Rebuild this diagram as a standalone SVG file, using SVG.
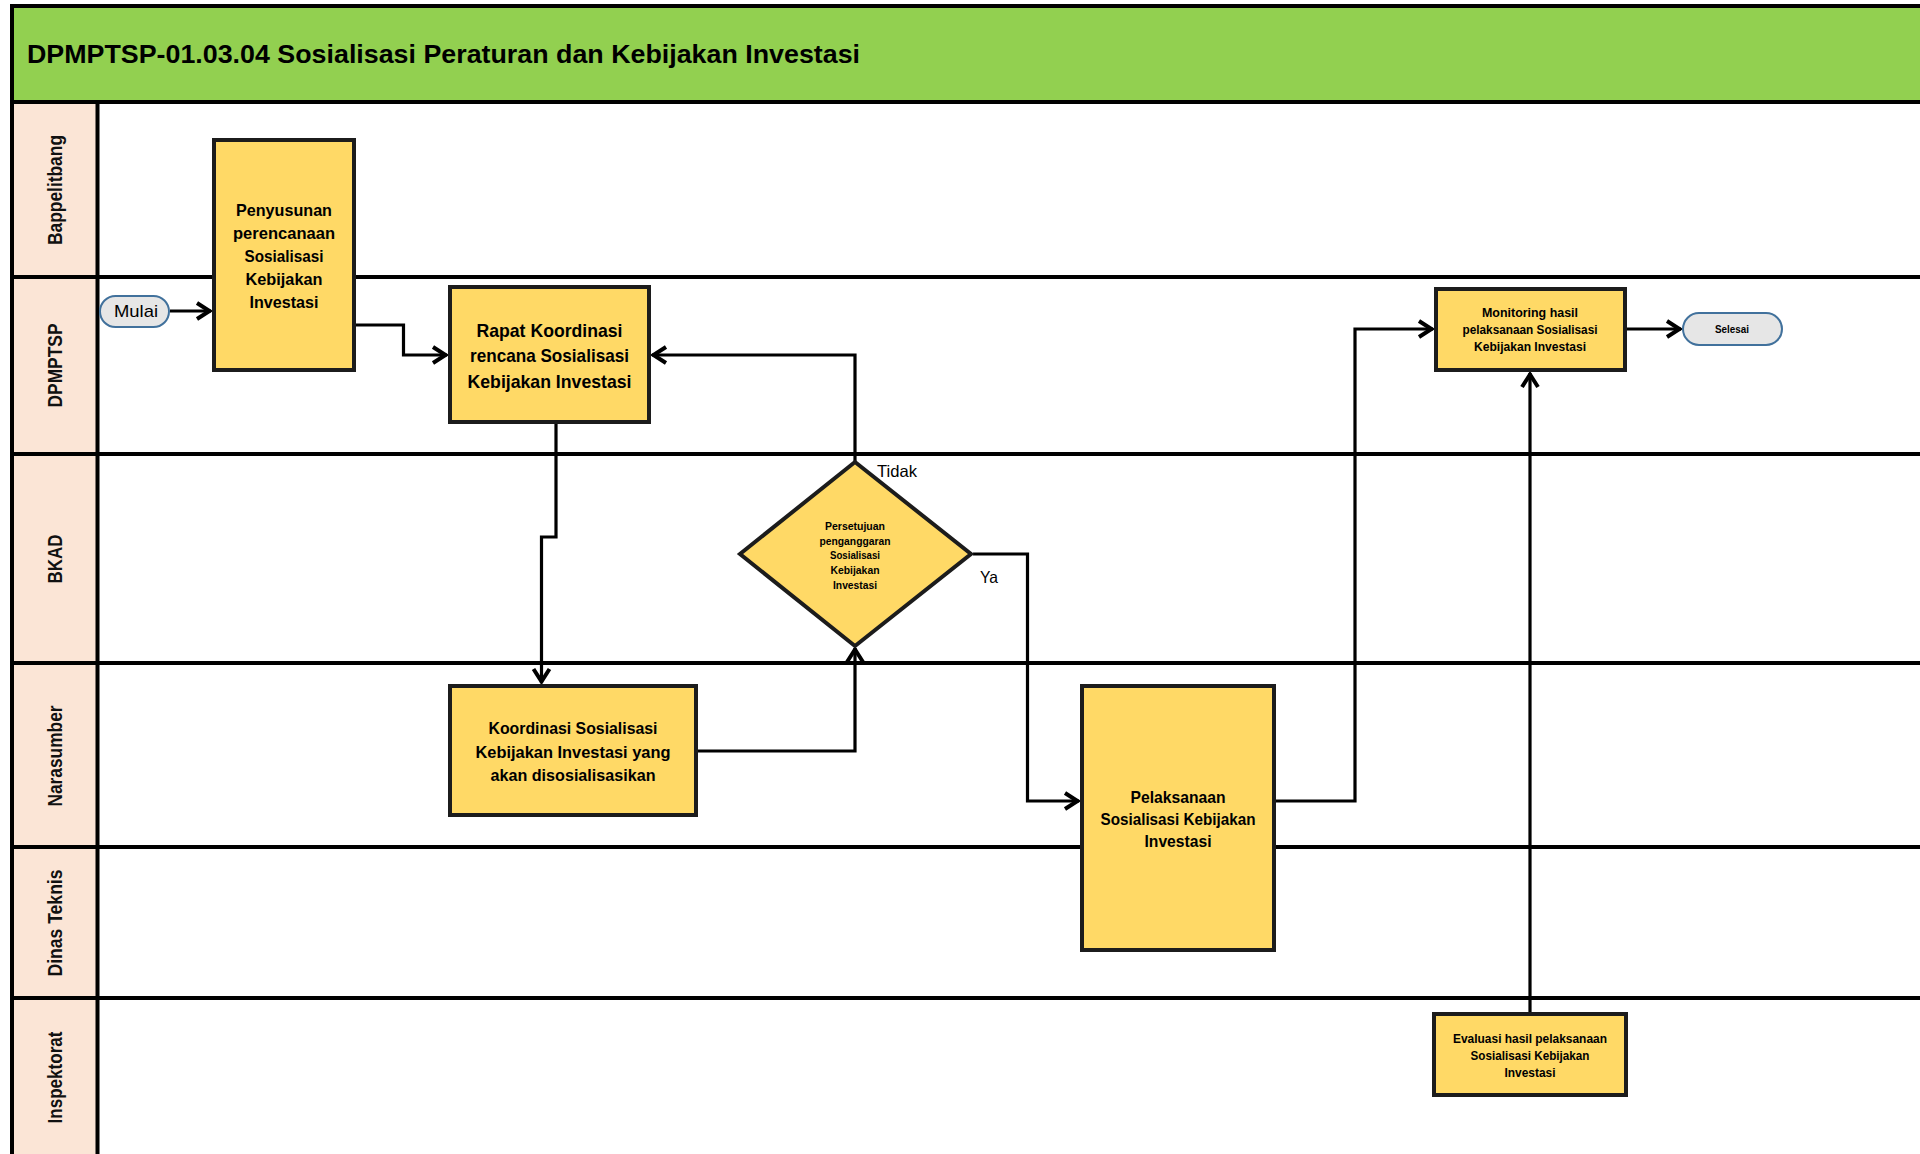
<svg xmlns="http://www.w3.org/2000/svg" width="1920" height="1154" viewBox="0 0 1920 1154">
<style>
  .lane{stroke:#000;stroke-width:4;fill:none}
  .box{fill:#FFD966;stroke:#1c1c1c;stroke-width:4}
  .term{fill:#E6E6E6;stroke:#41719C;stroke-width:2}
  .conn{fill:none;stroke:#000;stroke-width:3.2;marker-end:url(#arr)}
  text{font-family:"Liberation Sans",Arial,sans-serif;fill:#000}
  .t{font-weight:bold;text-anchor:middle}
  .lbl{font-weight:bold;font-size:19.5px;text-anchor:middle;fill:#111}
  .title{font-weight:bold;font-size:25px}
  .reg{font-weight:normal}
</style>
<defs>
  <marker id="arr" markerUnits="userSpaceOnUse" markerWidth="24" markerHeight="24" viewBox="-20 -12 24 24" refX="0" refY="0" orient="auto">
    <path d="M-14,-8 L-1.5,0 L-14,8" fill="none" stroke="#000" stroke-width="4"/>
  </marker>
</defs>

<g id="background">
  <rect x="0" y="0" width="1920" height="1154" fill="#fff"/>
  <rect x="12" y="6" width="1910" height="96" fill="#92D050"/>
  <rect x="12" y="102" width="85.5" height="1052" fill="#FBE5D6"/>
</g>

<g id="lanes">
  <line class="lane" x1="10" y1="6" x2="1920" y2="6"/>
  <line class="lane" x1="12" y1="4" x2="12" y2="1154"/>
  <line class="lane" x1="10" y1="102" x2="1920" y2="102"/>
  <line class="lane" x1="97.5" y1="102" x2="97.5" y2="1154"/>
  <line class="lane" x1="10" y1="277" x2="1920" y2="277"/>
  <line class="lane" x1="10" y1="454" x2="1920" y2="454"/>
  <line class="lane" x1="10" y1="663" x2="1920" y2="663"/>
  <line class="lane" x1="10" y1="847" x2="1920" y2="847"/>
  <line class="lane" x1="10" y1="998" x2="1920" y2="998"/>
</g>

<g id="title">
  <text class="title" x="27" y="63" textLength="833" lengthAdjust="spacingAndGlyphs">DPMPTSP-01.03.04 Sosialisasi Peraturan dan Kebijakan Investasi</text>
</g>

<g id="lane-labels">
  <text class="lbl" transform="translate(62,190) rotate(-90)" textLength="110" lengthAdjust="spacingAndGlyphs">Bappelitbang</text>
  <text class="lbl" transform="translate(62,365.5) rotate(-90)" textLength="84" lengthAdjust="spacingAndGlyphs">DPMPTSP</text>
  <text class="lbl" transform="translate(62,559) rotate(-90)" textLength="49" lengthAdjust="spacingAndGlyphs">BKAD</text>
  <text class="lbl" transform="translate(62,756) rotate(-90)" textLength="101" lengthAdjust="spacingAndGlyphs">Narasumber</text>
  <text class="lbl" transform="translate(62,923) rotate(-90)" textLength="107" lengthAdjust="spacingAndGlyphs">Dinas Teknis</text>
  <text class="lbl" transform="translate(62,1077.5) rotate(-90)" textLength="92" lengthAdjust="spacingAndGlyphs">Inspektorat</text>
</g>

<g id="connectors">
  <path class="conn" d="M170,311 H211"/>
  <path class="conn" d="M356,325 H403.5 V355 H447"/>
  <path class="conn" d="M556,424 V537 H541.5 V683"/>
  <path class="conn" d="M698,751 H855 V648"/>
  <path class="conn" d="M855,461 V355 H652"/>
  <path class="conn" d="M973,554 H1027.5 V801 H1079"/>
  <path class="conn" d="M1276,801 H1355 V329 H1433"/>
  <path class="conn" d="M1530,1012 V373"/>
  <path class="conn" d="M1627,329 H1681"/>
  <text class="reg" x="877" y="477" font-size="16.5" textLength="40" lengthAdjust="spacingAndGlyphs">Tidak</text>
  <text class="reg" x="980" y="583" font-size="16.5" textLength="18" lengthAdjust="spacingAndGlyphs">Ya</text>
</g>

<g id="mulai">
  <rect class="term" x="100" y="296" width="69" height="31" rx="15.5"/>
  <text class="reg" x="136" y="317" font-size="17" text-anchor="middle" textLength="44" lengthAdjust="spacingAndGlyphs">Mulai</text>
</g>

<g id="penyusunan">
  <rect class="box" x="214" y="140" width="140" height="230"/>
  <g class="t" font-size="17">
    <text x="284" y="216" textLength="96" lengthAdjust="spacingAndGlyphs">Penyusunan</text>
    <text x="284" y="239" textLength="102" lengthAdjust="spacingAndGlyphs">perencanaan</text>
    <text x="284" y="262" textLength="79" lengthAdjust="spacingAndGlyphs">Sosialisasi</text>
    <text x="284" y="285" textLength="77" lengthAdjust="spacingAndGlyphs">Kebijakan</text>
    <text x="284" y="308" textLength="69" lengthAdjust="spacingAndGlyphs">Investasi</text>
  </g>
</g>

<g id="rapat">
  <rect class="box" x="450" y="287" width="199" height="135"/>
  <g class="t" font-size="18.5">
    <text x="549.5" y="337" textLength="146" lengthAdjust="spacingAndGlyphs">Rapat Koordinasi</text>
    <text x="549.5" y="362" textLength="159" lengthAdjust="spacingAndGlyphs">rencana Sosialisasi</text>
    <text x="549.5" y="388" textLength="164" lengthAdjust="spacingAndGlyphs">Kebijakan Investasi</text>
  </g>
</g>

<g id="persetujuan">
  <polygon class="box" points="855,462 971,554 855,646 740,554"/>
  <g class="t" font-size="10.8">
    <text x="855" y="530" textLength="60" lengthAdjust="spacingAndGlyphs">Persetujuan</text>
    <text x="855" y="544.5" textLength="71" lengthAdjust="spacingAndGlyphs">penganggaran</text>
    <text x="855" y="559" textLength="50" lengthAdjust="spacingAndGlyphs">Sosialisasi</text>
    <text x="855" y="574" textLength="49" lengthAdjust="spacingAndGlyphs">Kebijakan</text>
    <text x="855" y="589" textLength="44" lengthAdjust="spacingAndGlyphs">Investasi</text>
  </g>
</g>

<g id="koordinasi">
  <rect class="box" x="450" y="686" width="246" height="129"/>
  <g class="t" font-size="17">
    <text x="573" y="734" textLength="169" lengthAdjust="spacingAndGlyphs">Koordinasi Sosialisasi</text>
    <text x="573" y="758" textLength="195" lengthAdjust="spacingAndGlyphs">Kebijakan Investasi yang</text>
    <text x="573" y="781" textLength="165" lengthAdjust="spacingAndGlyphs">akan disosialisasikan</text>
  </g>
</g>

<g id="pelaksanaan">
  <rect class="box" x="1082" y="686" width="192" height="264"/>
  <g class="t" font-size="16.5">
    <text x="1178" y="803" textLength="95" lengthAdjust="spacingAndGlyphs">Pelaksanaan</text>
    <text x="1178" y="825" textLength="155" lengthAdjust="spacingAndGlyphs">Sosialisasi Kebijakan</text>
    <text x="1178" y="847" textLength="67" lengthAdjust="spacingAndGlyphs">Investasi</text>
  </g>
</g>

<g id="monitoring">
  <rect class="box" x="1436" y="289" width="189" height="81"/>
  <g class="t" font-size="12.6">
    <text x="1530" y="317" textLength="96" lengthAdjust="spacingAndGlyphs">Monitoring hasil</text>
    <text x="1530" y="334" textLength="135" lengthAdjust="spacingAndGlyphs">pelaksanaan Sosialisasi</text>
    <text x="1530" y="351" textLength="112" lengthAdjust="spacingAndGlyphs">Kebijakan Investasi</text>
  </g>
</g>

<g id="selesai">
  <rect class="term" x="1683" y="313" width="99" height="32" rx="16"/>
  <text class="t" x="1732" y="333" font-size="10.8" textLength="34" lengthAdjust="spacingAndGlyphs">Selesai</text>
</g>

<g id="evaluasi">
  <rect class="box" x="1434" y="1014" width="192" height="81"/>
  <g class="t" font-size="12.6">
    <text x="1530" y="1043" textLength="154" lengthAdjust="spacingAndGlyphs">Evaluasi hasil pelaksanaan</text>
    <text x="1530" y="1060" textLength="119" lengthAdjust="spacingAndGlyphs">Sosialisasi Kebijakan</text>
    <text x="1530" y="1077" textLength="51" lengthAdjust="spacingAndGlyphs">Investasi</text>
  </g>
</g>
</svg>
